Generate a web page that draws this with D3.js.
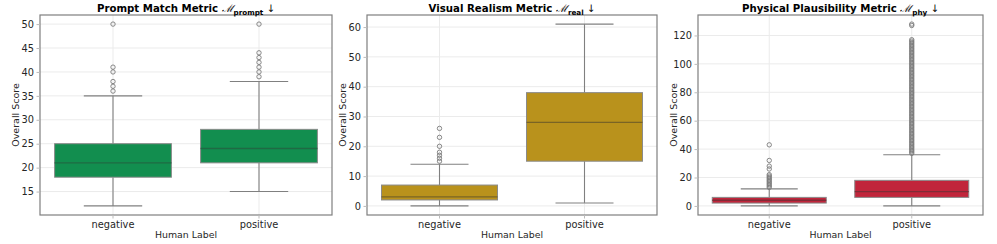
<!DOCTYPE html>
<html>
<head>
<meta charset="utf-8">
<script src="https://cdn.jsdelivr.net/npm/d3@7"></script>
<style>
  body { margin: 0; background: #fff; }
  svg text { font-family: "DejaVu Sans", sans-serif; }
</style>
</head>
<body>
<svg id="chart" width="997" height="244"></svg>
<script>
// categories on the x axis
const labels = ["negative", "positive"]

// box stats: [whiskerLow, q1, median, q3, whiskerHigh]
const promptStats = [[12, 18, 21, 25, 35], [15, 21, 24, 28, 38]]
const promptOutliers = [[36, 37, 38, 40, 41, 50], [39, 40, 41, 42, 43, 44, 50]]
const promptTicks = [15, 20, 25, 30, 35, 40, 45, 50]

const realStats = [[0, 2, 3, 7, 14], [1, 15, 28, 38, 61]]
const realOutliers = [[15, 16, 17, 18, 20, 23, 26], []]
const realTicks = [0, 10, 20, 30, 40, 50, 60]

const phyStats = [[0, 2, 4, 6, 12], [0, 6, 10, 18, 36]]
const phyOutliers = [
    [13, 14, 15, 16, 17, 18, 19, 20, 21, 22, 26, 28, 32, 43],
    [37, 38, 39, 40, 41, 42, 43, 44, 45, 46, 47, 48, 49, 50, 51, 52, 53, 54, 55, 56,
     57, 58, 59, 60, 61, 62, 63, 64, 65, 66, 67, 68, 69, 70, 71, 72, 73, 74, 75, 76,
     77, 78, 79, 80, 81, 82, 83, 84, 85, 86, 87, 88, 89, 90, 91, 92, 93, 94, 95, 96,
     97, 98, 99, 100, 101, 102, 103, 104, 105, 106, 107, 108, 109, 110, 111, 112, 113,
     114, 115, 116, 117, 127, 128]
]
const phyTicks = [0, 20, 40, 60, 80, 100, 120]

const panels = [
    {title: "Prompt Match Metric ", sub: "prompt", stats: promptStats, outliers: promptOutliers,
     ticks: promptTicks, color: "#128e4f", median: "#1f6a43", left: 40, right: 332},
    {title: "Visual Realism Metric ", sub: "real", stats: realStats, outliers: realOutliers,
     ticks: realTicks, color: "#b9921c", median: "#7a6424", left: 367, right: 657},
    {title: "Physical Plausibility Metric ", sub: "phy", stats: phyStats, outliers: phyOutliers,
     ticks: phyTicks, color: "#c1253b", median: "#7f2c37", left: 698, right: 983}
]

const svg = d3.select("#chart")
const plotTop = 15, plotBottom = 215

panels.forEach(p => {
    const g = svg.append("g")

    // y domain like seaborn: data range plus 5% margins
    const all = p.stats.flat().concat(p.outliers.flat())
    const lo = d3.min(all), hi = d3.max(all)
    const pad = (hi - lo) * 0.05
    const y = d3.scaleLinear().domain([lo - pad, hi + pad]).range([plotBottom, plotTop])
    const x = d3.scaleBand().domain(labels).range([p.left, p.right]).padding(0)
    const bw = x.bandwidth() * 0.8

    // grid
    g.selectAll(".hgrid").data(p.ticks).join("line")
        .attr("x1", p.left).attr("x2", p.right)
        .attr("y1", d => y(d)).attr("y2", d => y(d))
        .attr("stroke", "#ebebeb").attr("stroke-width", 1)
    g.selectAll(".vgrid").data(labels).join("line")
        .attr("x1", d => x(d) + x.bandwidth() / 2).attr("x2", d => x(d) + x.bandwidth() / 2)
        .attr("y1", plotTop).attr("y2", plotBottom)
        .attr("stroke", "#ebebeb").attr("stroke-width", 1)

    // boxes
    labels.forEach((lab, i) => {
        const [wl, q1, md, q3, wh] = p.stats[i]
        const cx = x(lab) + x.bandwidth() / 2
        g.append("line").attr("x1", cx).attr("x2", cx).attr("y1", y(wl)).attr("y2", y(q1))
            .attr("stroke", "#808080").attr("stroke-width", 1.1)
        g.append("line").attr("x1", cx).attr("x2", cx).attr("y1", y(q3)).attr("y2", y(wh))
            .attr("stroke", "#808080").attr("stroke-width", 1.1)
        g.selectAll(".cap" + i).data([wl, wh]).join("line")
            .attr("x1", cx - bw / 4).attr("x2", cx + bw / 4)
            .attr("y1", d => y(d)).attr("y2", d => y(d))
            .attr("stroke", "#808080").attr("stroke-width", 1.1)
        g.append("rect")
            .attr("x", cx - bw / 2).attr("width", bw)
            .attr("y", y(q3)).attr("height", y(q1) - y(q3))
            .attr("fill", p.color).attr("stroke", "#8a8a8a").attr("stroke-width", 1)
        g.append("line").attr("x1", cx - bw / 2).attr("x2", cx + bw / 2)
            .attr("y1", y(md)).attr("y2", y(md))
            .attr("stroke", p.median).attr("stroke-width", 1.3)
        g.selectAll(".out" + i).data(p.outliers[i]).join("circle")
            .attr("cx", cx).attr("cy", d => y(d)).attr("r", 2.2)
            .attr("fill", "none").attr("stroke", "#7a7a7a").attr("stroke-width", 0.9)
    })

    // frame
    g.append("rect").attr("x", p.left).attr("y", plotTop)
        .attr("width", p.right - p.left).attr("height", plotBottom - plotTop)
        .attr("fill", "none").attr("stroke", "#7f7f7f").attr("stroke-width", 1.2)

    // axes
    const yAxis = g.append("g").attr("transform", `translate(${p.left},0)`)
        .call(d3.axisLeft(y).tickValues(p.ticks).tickSize(3.5).tickPadding(2.5))
    const xAxis = g.append("g").attr("transform", `translate(0,${plotBottom})`)
        .call(d3.axisBottom(x).tickSize(3.5).tickPadding(3))
    ;[yAxis, xAxis].forEach(a => {
        a.select(".domain").remove()
        a.selectAll(".tick line").attr("stroke", "#bbbbbb")
        a.selectAll(".tick text").attr("fill", "#262626").style("font-size", "9.8px")
            .style("font-family", "DejaVu Sans, sans-serif")
    })

    g.append("text")
        .attr("transform", `translate(${p.left - 21},${(plotTop + plotBottom) / 2}) rotate(-90)`)
        .attr("text-anchor", "middle").attr("fill", "#262626").style("font-size", "9.5px")
        .text("Overall Score")
    g.append("text")
        .attr("x", (p.left + p.right) / 2).attr("y", 237.5)
        .attr("text-anchor", "middle").attr("fill", "#262626").style("font-size", "9.4px")
        .text("Human Label")

    // title with math M and subscript
    const t = g.append("text")
        .attr("x", (p.left + p.right) / 2).attr("y", 12)
        .attr("text-anchor", "middle").attr("fill", "#000").style("font-size", "10.2px")
    t.append("tspan").style("font-weight", "bold").text(p.title)
    t.append("tspan").style("font-family", "DejaVu Serif, serif").style("font-style", "italic").text("\u2133")
    t.append("tspan").attr("dy", 2.5).style("font-weight", "bold").style("font-size", "7.2px").text(p.sub)
    t.append("tspan").attr("dy", -2.5).text(" \u2193")
})
</script>
</body>
</html>
